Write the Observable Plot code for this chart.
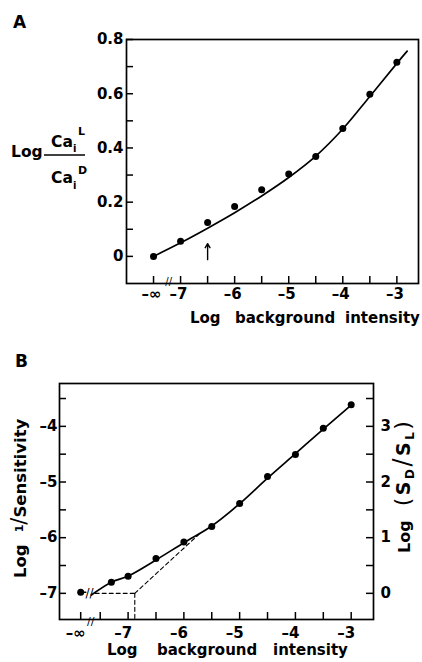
<!DOCTYPE html>
<html><head><meta charset="utf-8">
<script src="https://cdn.jsdelivr.net/npm/d3@7"></script>
<script src="https://cdn.jsdelivr.net/npm/@observablehq/plot@0.6"></script>
<style>
body{margin:0;background:#fff}
#wrap{width:422px}
svg{display:block}
</style>
</head><body><div id="wrap"></div>
<script>
// ---------- Panel A data ----------
const aX = [-7.5, -7, -6.5, -6, -5.5, -5, -4.5, -4, -3.5, -3];          // -7.5 stands for −∞
const aY = [0, 0.056, 0.125, 0.184, 0.246, 0.304, 0.368, 0.472, 0.598, 0.716];
const aCurveX = [-7.5, -7, -6.5, -6, -5.5, -5, -4.5, -4, -3.5, -3, -2.81];
const aCurveY = [0, 0.050, 0.104, 0.161, 0.223, 0.291, 0.370, 0.470, 0.590, 0.712, 0.757];
const aArrow = [{x: -6.5, y1: -0.012, y2: 0.047}];
const aBreakX = [-7.22];
const aXTicks = [-7.5, -7, -6.5, -6, -5.5, -5, -4.5, -4, -3.5, -3];
const aXLabelVals = [-7.5, -7, -6, -5, -4, -3];
const aXLabels = ["–∞", "–7", "–6", "–5", "–4", "–3"];
const aYTicks = [0, 0.1, 0.2, 0.3, 0.4, 0.5, 0.6, 0.7, 0.8];
const aYLabelVals = [0, 0.2, 0.4, 0.6, 0.8];
const aYLabels = ["0", "0.2", "0.4", "0.6", "0.8"];

// ---------- Panel B data ----------
const bX = [-7.85, -7.3, -7, -6.5, -6, -5.5, -5, -4.5, -4, -3.5, -3];   // -7.85 stands for −∞
const bY = [-6.98, -6.80, -6.695, -6.375, -6.077, -5.798, -5.387, -4.899, -4.506, -4.036, -3.613];
const bCurveX = [-7.66, -7.3, -7, -6.5, -6, -5.5, -5, -4.5, -4, -3.5, -3];
const bCurveY = [-7.03, -6.80, -6.69, -6.40, -6.09, -5.79, -5.39, -4.93, -4.49, -4.05, -3.62];
const bStubX = [-7.85, -7.76];
const bStubY = [-6.98, -6.98];
const bDashH = {x: [-7.59, -6.88], y: [-7, -7]};
const bDashV = {x: [-6.88, -6.88], y: [-7, -7.47]};
const bDashD = {x: [-6.88, -5.73], y: [-7, -5.94]};
const bBreakAxisX = [-7.67];
const bBreakCurve = [{x: -7.69, y: -7.0}];
const bXTicks = [-7.85, -7.5, -7, -6.5, -6, -5.5, -5, -4.5, -4, -3.5, -3];
const bXLabelVals = [-7.85, -7, -6, -5, -4, -3];
const bXLabels = ["–∞", "–7", "–6", "–5", "–4", "–3"];
const bYTicks = [-7, -6.5, -6, -5.5, -5, -4.5, -4, -3.5];
const bYLabelVals = [-7, -6, -5, -4];
const bYLabels = ["–7", "–6", "–5", "–4"];
const bY2Labels = ["0", "1", "2", "3"];   // Log(SD/SL) = left value + 7

const pts = (xs, ys) => xs.map((x, i) => ({x, y: ys[i]}));
const lab = (vals, labels) => { const m = new Map(vals.map((v, i) => [v, labels[i]])); return d => m.get(d); };
const baseStyle = {fontFamily: "DejaVu Sans", fontWeight: "bold", fontSize: "15px", color: "#000", background: "#fff", overflow: "visible"};
const T = (s, x, y, size) => s.append("text").attr("text-anchor", "start").attr("x", x).attr("y", y).attr("font-size", size);

// ---------- Panel A ----------
const A = {w: 422, h: 330, ml: 126, mr: 4, mt: 39, mb: 47};
const aPW = A.w - A.ml - A.mr, aPH = A.h - A.mt - A.mb;
const plotA = Plot.plot({
  width: A.w, height: A.h,
  marginLeft: A.ml, marginRight: A.mr, marginTop: A.mt, marginBottom: A.mb,
  x: {domain: [-8.0, -2.6]},
  y: {domain: [-0.1, 0.8]},
  style: baseStyle,
  marks: [
    Plot.frame({stroke: "#000", strokeWidth: 1.7}),
    Plot.tickY(aYTicks, {y: d => d, insetRight: aPW - 7, strokeWidth: 1.5}),
    Plot.tickX(aXTicks, {x: d => d, insetTop: aPH - 7, strokeWidth: 1.5}),
    Plot.axisY(aYLabelVals, {tickSize: 0, tickPadding: 3, tickFormat: lab(aYLabelVals, aYLabels), label: null}),
    Plot.axisX(aXLabelVals, {tickSize: 0, tickPadding: 5, dx: -2, tickFormat: lab(aXLabelVals, aXLabels), label: null}),
    Plot.text(aBreakX, {x: d => d, frameAnchor: "bottom", lineAnchor: "middle", text: () => "//", fontWeight: "normal", fontSize: 10, dy: -2}),
    Plot.line(pts(aCurveX, aCurveY), {x: "x", y: "y", curve: "catmull-rom", strokeWidth: 1.7}),
    Plot.dot(pts(aX, aY), {x: "x", y: "y", r: 3.5, fill: "#000"}),
    Plot.arrow(aArrow, {x1: "x", x2: "x", y1: "y1", y2: "y2", headLength: 5, strokeWidth: 1.4})
  ]
});
{
  const s = d3.select(plotA);
  T(s, 13, 28, 17).text("A");
  T(s, 11, 157, 15.5).text("Log");
  s.append("line").attr("x1", 44).attr("x2", 85).attr("y1", 155).attr("y2", 155).attr("stroke", "#000").attr("stroke-width", 1.4);
  T(s, 51, 147, 15.5).text("Ca");
  T(s, 73, 152, 10).text("i");
  T(s, 78, 135, 11).text("L");
  T(s, 51, 183, 15.5).text("Ca");
  T(s, 73, 189, 10).text("i");
  T(s, 78, 174, 11).text("D");
  [["Log", 190], ["background", 235], ["intensity", 345]].forEach(([t, x]) => T(s, x, 323, 15).text(t));
}

// ---------- Panel B ----------
const B = {w: 422, h: 332, ml: 59, mr: 49, mt: 53, mb: 43};
const bPW = B.w - B.ml - B.mr, bPH = B.h - B.mt - B.mb;
const plotB = Plot.plot({
  width: B.w, height: B.h,
  marginLeft: B.ml, marginRight: B.mr, marginTop: B.mt, marginBottom: B.mb,
  x: {domain: [-8.23, -2.6]},
  y: {domain: [-7.47, -3.23]},
  style: baseStyle,
  marks: [
    Plot.frame({stroke: "#000", strokeWidth: 1.7}),
    Plot.tickY(bYTicks, {y: d => d, insetRight: bPW - 7, strokeWidth: 1.5}),
    Plot.tickY(bYTicks, {y: d => d, insetLeft: bPW - 7, strokeWidth: 1.5}),
    Plot.tickX(bXTicks, {x: d => d, insetTop: bPH - 7, strokeWidth: 1.5}),
    Plot.axisY(bYLabelVals, {anchor: "left", tickSize: 0, tickPadding: 2, tickFormat: lab(bYLabelVals, bYLabels), label: null}),
    Plot.axisY(bYLabelVals, {anchor: "right", tickSize: 0, tickPadding: 7, tickFormat: lab(bYLabelVals, bY2Labels), label: null}),
    Plot.axisX(bXLabelVals, {tickSize: 0, tickPadding: 8, dx: -5, tickFormat: lab(bXLabelVals, bXLabels), label: null}),
    Plot.text(bBreakAxisX, {x: d => d, frameAnchor: "bottom", lineAnchor: "middle", text: () => "//", fontWeight: "normal", fontSize: 11, dy: 2}),
    Plot.line(pts(bDashH.x, bDashH.y), {x: "x", y: "y", strokeWidth: 1.1, strokeDasharray: "4,3"}),
    Plot.line(pts(bDashV.x, bDashV.y), {x: "x", y: "y", strokeWidth: 1.1, strokeDasharray: "4,3"}),
    Plot.line(pts(bDashD.x, bDashD.y), {x: "x", y: "y", strokeWidth: 1.1, strokeDasharray: "4,3"}),
    Plot.line(pts(bStubX, bStubY), {x: "x", y: "y", strokeWidth: 1.6}),
    Plot.text(bBreakCurve, {x: "x", y: "y", text: () => "//", fontWeight: "normal", fontSize: 12, lineAnchor: "middle"}),
    Plot.line(pts(bCurveX, bCurveY), {x: "x", y: "y", curve: "catmull-rom", strokeWidth: 1.7}),
    Plot.dot(pts(bX, bY), {x: "x", y: "y", r: 3.5, fill: "#000"})
  ]
});
{
  const s = d3.select(plotB);
  T(s, 15, 37, 17).text("B");
  const l = s.append("text").attr("text-anchor", "start").attr("transform", "translate(26,248) rotate(-90)").attr("font-size", 16.5);
  l.append("tspan").text("Log");
  l.append("tspan").attr("dx", 12).attr("dy", -3).attr("font-size", 11).text("1");
  l.append("tspan").attr("dy", 3).attr("font-size", 21).attr("font-weight", "normal").text("/");
  l.append("tspan").text("Sensitivity");
  const r = s.append("text").attr("text-anchor", "start").attr("transform", "translate(410,223) rotate(-90)").attr("font-size", 16);
  r.append("tspan").text("Log");
  const r2 = r.append("tspan").attr("dx", 14).attr("letter-spacing", 2.5);
  r2.append("tspan").attr("font-size", 22).attr("font-weight", "normal").text("(");
  r2.append("tspan").attr("font-size", 19).text("S");
  r2.append("tspan").attr("dy", 4).attr("font-size", 12).text("D");
  r2.append("tspan").attr("dy", -4).attr("font-size", 24).attr("font-weight", "normal").text("/");
  r2.append("tspan").attr("font-size", 19).text("S");
  r2.append("tspan").attr("dy", 4).attr("font-size", 12).text("L");
  r2.append("tspan").attr("dy", -4).attr("font-size", 22).attr("font-weight", "normal").text(")");
  [["Log", 107], ["background", 157], ["intensity", 273]].forEach(([t, x]) => T(s, x, 325, 15).text(t));
}

document.getElementById("wrap").append(plotA, plotB);
</script>
</body></html>
